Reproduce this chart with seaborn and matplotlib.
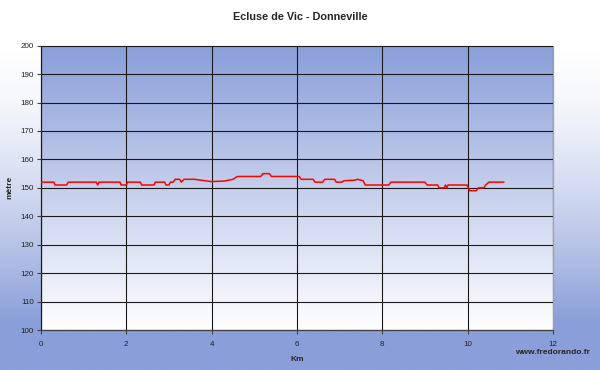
import numpy as np
import pandas as pd
import seaborn as sns
import matplotlib
matplotlib.use("Agg")
from matplotlib import pyplot as plt
from matplotlib.colors import LinearSegmentedColormap

# profil altimétrique (km, mètres)
km = [0.00, 0.30, 0.33, 0.60, 0.64, 1.30, 1.33, 1.36, 1.85, 1.88, 2.00, 2.03,
      2.33, 2.36, 2.65, 2.68, 2.90, 2.93, 3.00, 3.03, 3.10, 3.14, 3.25, 3.29,
      3.35, 3.60, 3.80, 4.00, 4.30, 4.50, 4.60, 5.15, 5.20, 5.35, 5.40, 6.05,
      6.10, 6.38, 6.42, 6.60, 6.65, 6.88, 6.92, 7.05, 7.10, 7.35, 7.42, 7.55,
      7.60, 8.15, 8.20, 9.00, 9.05, 9.30, 9.33, 9.45, 9.48, 9.51, 9.54, 9.98,
      10.05, 10.20, 10.25, 10.38, 10.42, 10.50, 10.85]
alt = [152, 152, 151, 151, 152, 152, 151, 152, 152, 151, 151, 152,
       152, 151, 151, 152, 152, 151, 151, 152, 152, 153, 153, 152,
       153, 153, 152.6, 152.2, 152.4, 153, 154, 154, 155, 155, 154, 154,
       153, 153, 152, 152, 153, 153, 152, 152, 152.5, 152.7, 153, 152.5,
       151, 151, 152, 152, 151, 151, 150, 150, 151, 150, 151, 151,
       149, 149, 150, 150, 151, 152, 152]

xticks = [0, 2, 4, 6, 8, 10, 12]
yticks = [100, 110, 120, 130, 140, 150, 160, 170, 180, 190, 200]

df = pd.DataFrame({"km": km, "alt": alt})

sns.set_theme(style="white")
plt.rcParams["font.family"] = ["Liberation Sans", "DejaVu Sans"]

blue = "#8a9ed9"
fig = plt.figure(figsize=(6, 3.7), dpi=100)

# fond dégradé de la figure (blanc en haut, bleu en bas)
bg = fig.add_axes([0, 0, 1, 1], zorder=-10)
t = np.linspace(0, 1, 256)
f = np.clip((t - 0.12) / 0.75, 0, 1) ** 1.5
cmap_fig = LinearSegmentedColormap.from_list("fig", ["#ffffff", blue])
bg.imshow(f.reshape(-1, 1), cmap=cmap_fig, aspect="auto", extent=[0, 1, 0, 1], vmin=0, vmax=1)
bg.set_axis_off()

ax = fig.add_axes([0.0683, 0.1081, 0.8534, 0.7684])
# dégradé de la zone de tracé (bleu en haut, blanc en bas)
cmap_ax = LinearSegmentedColormap.from_list("ax", [blue, "#ffffff"])
ax.imshow(np.linspace(0, 1, 256).reshape(-1, 1), cmap=cmap_ax, aspect="auto",
          extent=[0, 12, 100, 200], zorder=-1)

sns.lineplot(data=df, x="km", y="alt", sort=False, color="#ff0000", lw=1.1, ax=ax, zorder=3)

ax.set_xlim(0, 12)
ax.set_ylim(100, 200)
ax.set_xticks(xticks)
ax.set_yticks(yticks)
ax.grid(True, color="#1a1a1a", lw=0.8)
ax.set_axisbelow(False)
ax.tick_params(axis="both", direction="out", length=3, width=0.8, color="#404040",
               labelsize=5.8, labelcolor="#222222", pad=2, left=True, bottom=True)
ax.tick_params(axis="x", pad=5)
for side in ["left", "bottom"]:
    ax.spines[side].set_color("#404040")
    ax.spines[side].set_linewidth(0.9)
for side in ["top", "right"]:
    ax.spines[side].set_color("#a0a0a0")
    ax.spines[side].set_linewidth(0.9)

ax.set_xlabel("Km", fontsize=6, fontweight="bold")
ax.set_ylabel("mètre", fontsize=6, fontweight="bold")
ax.xaxis.set_label_coords(0.5, -0.091)
ax.yaxis.set_label_coords(-0.053, 0.5)
fig.text(0.5, 0.955, "Ecluse de Vic - Donneville", ha="center", va="center",
         fontsize=7.8, fontweight="bold")
fig.text(0.983, 0.048, "www.fredorando.fr", ha="right", va="center",
         fontsize=6, fontweight="bold")

fig.savefig("out.png", dpi=100)
